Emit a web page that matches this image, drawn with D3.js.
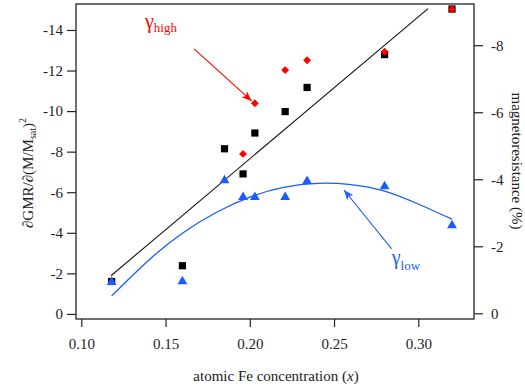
<!DOCTYPE html>
<html>
<head>
<meta charset="utf-8">
<script src="https://cdn.jsdelivr.net/npm/d3@7"></script>
<style>
  body { margin: 0; background: #fff; }
  svg text { font-family: "Liberation Serif", "DejaVu Serif", serif; }
</style>
</head>
<body>
<svg width="525" height="387"></svg>
<script>
  // data
  const feX = [0.118, 0.160, 0.185, 0.196, 0.203, 0.221, 0.234, 0.280, 0.320];
  const mrSquares = [-0.95, -1.42, -4.91, -4.16, -5.38, -6.02, -6.74, -7.72, -9.08]; // right axis (%)
  const lowTri = [-1.59, -1.63, -6.61, -5.78, -5.78, -5.78, -6.57, -6.31, -4.39]; // left axis
  const highX = [0.196, 0.203, 0.221, 0.234, 0.280, 0.320];
  const highDia = [-7.89, -10.39, -12.02, -12.51, -12.93, -15.02];

  // linear fit through the squares (end points)
  const fitX = [0.1176, 0.3058];
  const fitY = [-1.12, -9.09];

  // smooth curve through the triangles
  const curveX = [0.118, 0.14, 0.16, 0.18, 0.20, 0.22, 0.24, 0.26, 0.28, 0.30, 0.32];
  const curveY = [-0.89, -2.65, -3.98, -5.0, -5.76, -6.24, -6.44, -6.38, -6.06, -5.42, -4.67];

  const xTicks = [0.10, 0.15, 0.20, 0.25, 0.30];
  const leftTicks = [0, -2, -4, -6, -8, -10, -12, -14];
  const rightTicks = [0, -2, -4, -6, -8];

  const red = "#ff0000", blue = "#1a5cff";

  const margin = { left: 76, right: 51, top: 4, bottom: 68 };
  const W = 525, H = 387;
  const svg = d3.select("svg");

  const x = d3.scaleLinear().domain([0.09685, 0.33306]).range([margin.left, W - margin.right]);
  const yL = d3.scaleLinear().domain([0.25, -15.28]).range([H - margin.bottom, margin.top]);
  const yR = d3.scaleLinear().domain([0.17, -9.23]).range([H - margin.bottom, margin.top]);

  // frame
  svg.append("rect")
    .attr("x", margin.left).attr("y", margin.top)
    .attr("width", W - margin.left - margin.right)
    .attr("height", H - margin.top - margin.bottom)
    .attr("fill", "none").attr("stroke", "#222").attr("stroke-width", 1.3);

  // axes
  const styleAxis = g => {
    g.select(".domain").remove();
    g.selectAll(".tick line").attr("stroke", "#222").attr("stroke-width", 1.2);
    g.selectAll(".tick text").attr("font-size", 15).attr("fill", "#222")
      .attr("font-family", "Liberation Serif");
  };

  svg.append("g")
    .attr("transform", `translate(0,${H - margin.bottom})`)
    .call(d3.axisBottom(x).tickValues(xTicks).tickSize(8).tickPadding(11).tickFormat(d3.format(".2f")))
    .call(styleAxis);

  svg.append("g")
    .attr("transform", `translate(${margin.left},0)`)
    .call(d3.axisLeft(yL).tickValues(leftTicks).tickSize(9).tickPadding(4).tickFormat(d => String(d)))
    .call(styleAxis);

  svg.append("g")
    .attr("transform", `translate(${W - margin.right},0)`)
    .call(d3.axisRight(yR).tickValues(rightTicks).tickSize(9).tickPadding(8).tickFormat(d => String(d)))
    .call(styleAxis);

  // axis titles
  const xt = svg.append("text")
    .attr("x", (margin.left + W - margin.right) / 2 + 1).attr("y", 381)
    .attr("text-anchor", "middle").attr("font-size", 15).attr("fill", "#222");
  xt.append("tspan").text("atomic Fe concentration (");
  xt.append("tspan").attr("font-style", "italic").text("x");
  xt.append("tspan").text(")");

  const lt = svg.append("text")
    .attr("transform", "translate(33,173) rotate(-90)")
    .attr("text-anchor", "middle").attr("font-size", 15).attr("fill", "#222");
  lt.append("tspan").text("∂GMR/∂(M/M");
  lt.append("tspan").attr("font-size", 10).attr("dy", 3).text("sat");
  lt.append("tspan").attr("dy", -3).text(")");
  lt.append("tspan").attr("font-size", 10).attr("dy", -7).text("2");

  svg.append("text")
    .attr("transform", "translate(512,161) rotate(90)")
    .attr("text-anchor", "middle").attr("font-size", 15).attr("fill", "#222")
    .text("magnetoresistance (%)");

  // fit line
  svg.append("path")
    .datum(d3.zip(fitX, fitY))
    .attr("d", d3.line().x(d => x(d[0])).y(d => yR(d[1])))
    .attr("fill", "none").attr("stroke", "#111").attr("stroke-width", 1.1);

  // blue curve
  svg.append("path")
    .datum(d3.zip(curveX, curveY))
    .attr("d", d3.line().x(d => x(d[0])).y(d => yL(d[1])).curve(d3.curveNatural))
    .attr("fill", "none").attr("stroke", blue).attr("stroke-width", 1.3);

  // markers
  svg.append("g").selectAll("path")
    .data(d3.zip(feX, mrSquares))
    .join("path")
    .attr("transform", d => `translate(${x(d[0])},${yR(d[1])})`)
    .attr("d", d3.symbol(d3.symbolSquare, 52))
    .attr("fill", "#000");

  svg.append("g").selectAll("path")
    .data(d3.zip(highX, highDia))
    .join("path")
    .attr("transform", d => `translate(${x(d[0])},${yL(d[1])})`)
    .attr("d", d3.symbol(d3.symbolDiamond2, 40))
    .attr("fill", red);

  svg.append("g").selectAll("path")
    .data(d3.zip(feX, lowTri))
    .join("path")
    .attr("transform", d => `translate(${x(d[0])},${yL(d[1]) + 0.5})`)
    .attr("d", d3.symbol(d3.symbolTriangle, 42))
    .attr("fill", blue);

  // annotations
  const defs = svg.append("defs");
  [["ahR", red], ["ahB", blue]].forEach(([id, c]) => {
    defs.append("marker").attr("id", id)
      .attr("viewBox", "0 0 10 10").attr("refX", 10).attr("refY", 5)
      .attr("markerWidth", 10).attr("markerHeight", 10).attr("markerUnits", "userSpaceOnUse")
      .attr("orient", "auto")
      .append("path").attr("d", "M0,1 L10,5 L0,9 L2.5,5 Z").attr("fill", c);
  });

  svg.append("line")
    .attr("x1", x(0.1669)).attr("y1", yL(-13.07))
    .attr("x2", x(0.2011)).attr("y2", yL(-10.50))
    .attr("stroke", red).attr("stroke-width", 1.1).attr("marker-end", "url(#ahR)");

  svg.append("line")
    .attr("x1", x(0.2842)).attr("y1", yL(-3.21))
    .attr("x2", x(0.2559)).attr("y2", yL(-6.11))
    .attr("stroke", blue).attr("stroke-width", 1.1).attr("marker-end", "url(#ahB)");

  const gh = svg.append("text")
    .attr("x", x(0.1378)).attr("y", yL(-14.1))
    .attr("font-size", 20).attr("fill", red);
  gh.append("tspan").text("γ");
  gh.append("tspan").attr("font-size", 13).attr("dy", 4).text("high");

  const gl = svg.append("text")
    .attr("x", x(0.2842)).attr("y", yL(-2.47))
    .attr("font-size", 20).attr("fill", blue);
  gl.append("tspan").text("γ");
  gl.append("tspan").attr("font-size", 13).attr("dy", 6).text("low");
</script>
</body>
</html>
